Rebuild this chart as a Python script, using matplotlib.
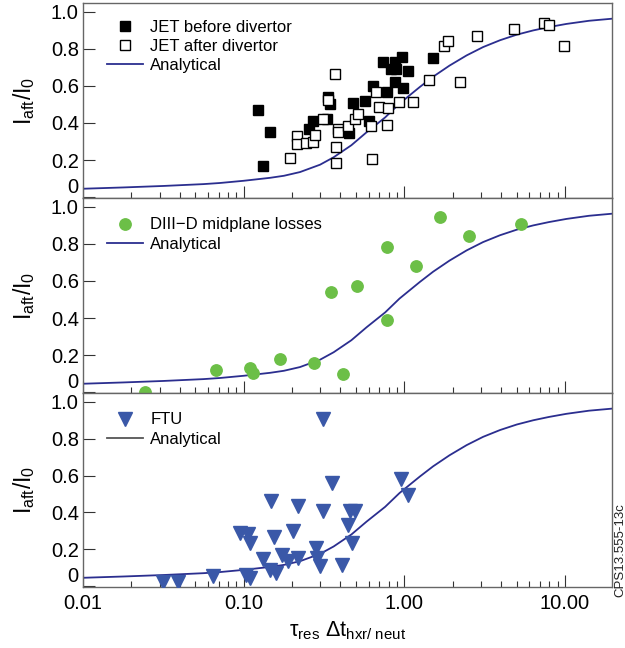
import matplotlib
matplotlib.use('Agg')
import matplotlib.pyplot as plt
from matplotlib.lines import Line2D
from matplotlib.ticker import LogLocator, FixedLocator, FixedFormatter, NullFormatter

plt.rcParams['font.family'] = ['Liberation Sans', 'DejaVu Sans']
plt.rcParams['mathtext.fontset'] = 'custom'
plt.rcParams['mathtext.rm'] = 'Liberation Sans'
plt.rcParams['mathtext.it'] = 'Liberation Sans:italic'
plt.rcParams['mathtext.sf'] = 'Liberation Sans'

# ---------------- data ----------------
# Analytical curve
curve_x = [0.01, 0.0178, 0.0316, 0.0562, 0.0711, 0.1, 0.146, 0.178, 0.224, 0.299, 0.363,
           0.468, 0.582, 0.759, 0.933, 1.25, 1.51, 1.91, 2.44, 3.09, 3.94, 5.01, 6.34,
           7.94, 10.2, 14.1, 19.5]
curve_y = [0.045, 0.052, 0.06, 0.07, 0.076, 0.088, 0.104, 0.115, 0.135, 0.175, 0.215,
           0.28, 0.35, 0.43, 0.505, 0.595, 0.65, 0.71, 0.765, 0.81, 0.847, 0.877, 0.90,
           0.918, 0.935, 0.952, 0.963]

# JET before divertor (filled squares)
jet_before_x = [0.123, 0.146, 0.131, 0.255, 0.27, 0.33, 0.335, 0.346, 0.45, 0.48, 0.57,
                0.60, 0.64, 0.74, 0.78, 0.87, 0.96, 1.06, 0.89, 0.87, 0.98, 1.5, 0.83]
jet_before_y = [0.47, 0.35, 0.17, 0.37, 0.41, 0.42, 0.54, 0.50, 0.345, 0.51, 0.52,
                0.41, 0.60, 0.73, 0.57, 0.73, 0.755, 0.68, 0.69, 0.62, 0.59, 0.75, 0.69]

# JET after divertor (open squares)
jet_after_x = [0.194, 0.214, 0.214, 0.245, 0.27, 0.278, 0.31, 0.336, 0.37, 0.375, 0.378,
               0.388, 0.388, 0.448, 0.49, 0.516, 0.62, 0.63, 0.665, 0.70, 0.78, 0.79,
               0.93, 1.13, 1.42, 1.77, 1.88, 2.22, 2.84, 4.81, 7.43, 7.94, 9.88]
jet_after_y = [0.21, 0.33, 0.285, 0.294, 0.30, 0.335, 0.42, 0.524, 0.665, 0.272, 0.185,
               0.37, 0.35, 0.384, 0.42, 0.45, 0.384, 0.207, 0.569, 0.488, 0.389, 0.479,
               0.515, 0.515, 0.632, 0.816, 0.845, 0.62, 0.872, 0.908, 0.942, 0.93, 0.816]

# DIII-D midplane losses
diiid_x = [0.0243, 0.067, 0.109, 0.115, 0.168, 0.274, 0.413, 0.349, 0.509, 0.783, 0.783,
           1.19, 1.67, 2.53, 5.29]
diiid_y = [0.002, 0.119, 0.131, 0.101, 0.177, 0.158, 0.096, 0.539, 0.573, 0.782, 0.389,
           0.683, 0.944, 0.845, 0.906]

# FTU
ftu_x = [0.0316, 0.0388, 0.0647, 0.104, 0.109, 0.095, 0.107, 0.110, 0.147, 0.155, 0.131,
         0.146, 0.160, 0.172, 0.188, 0.204, 0.219, 0.219, 0.31, 0.357, 0.31, 0.46, 0.49,
         0.444, 0.47, 0.283, 0.285, 0.30, 0.407, 0.95, 1.06]
ftu_y = [0.023, 0.02, 0.056, 0.06, 0.045, 0.29, 0.285, 0.236, 0.461, 0.265, 0.146,
         0.085, 0.072, 0.166, 0.137, 0.30, 0.432, 0.155, 0.906, 0.557, 0.405, 0.407, 0.407,
         0.33, 0.236, 0.205, 0.15, 0.11, 0.113, 0.582, 0.492]

ytick_vals = [0, 0.2, 0.4, 0.6, 0.8, 1.0]
ytick_labels = ['0', '0.2', '0.4', '0.6', '0.8', '1.0']
xtick_vals = [0.01, 0.1, 1, 10]
xtick_labels = ['0.01', '0.10', '1.00', '10.00']

# ---------------- styles ----------------
CURVE = '#2B2E8F'
GREEN = '#6CBF47'
BLUE = '#3A58A8'
SPINE = '#666666'
TICKC = '#333333'

W, H = 625, 648
fig = plt.figure(figsize=(W / 100, H / 100), dpi=100)


def add_ax(top, bottom):
    return fig.add_axes([83 / W, 1 - bottom / H, 529 / W, (bottom - top) / H])


ax1 = add_ax(3, 198)
ax2 = add_ax(198, 393)
ax3 = add_ax(393, 587)

for ax in (ax1, ax2, ax3):
    ax.set_xscale('log')
    ax.set_xlim(0.01, 19.6)
    ax.set_ylim(-0.005, 1.048)
    ax.plot(curve_x, curve_y, color=CURVE, lw=1.3, zorder=2)
    for s in ax.spines.values():
        s.set_color(SPINE)
        s.set_linewidth(1.0)
    ax.xaxis.set_major_locator(FixedLocator(xtick_vals))
    ax.xaxis.set_minor_locator(LogLocator(base=10, subs=range(2, 10)))
    ax.xaxis.set_minor_formatter(NullFormatter())
    ax.yaxis.set_major_locator(FixedLocator(ytick_vals))
    ax.yaxis.set_major_formatter(FixedFormatter(ytick_labels))
    ax.tick_params(axis='both', which='major', direction='in', length=8.5, width=0.8,
                   color=TICKC, labelsize=14.5, pad=3)
    ax.tick_params(axis='x', which='minor', direction='in', length=4.3, width=0.8, color=TICKC)
    ax.tick_params(axis='x', top=False, which='both')
    ax.tick_params(axis='y', right=False, which='both')
    ax.set_ylabel('I$_{\\mathrm{aft}}$/I$_{\\mathrm{0}}$', fontsize=16.5, labelpad=10)
    ax.yaxis.get_major_ticks()[0].label1.set_verticalalignment('bottom')

ax1.tick_params(axis='x', labelbottom=False)
ax2.tick_params(axis='x', labelbottom=False)
ax3.xaxis.set_major_formatter(FixedFormatter(xtick_labels))
ax3.tick_params(axis='x', pad=5)

# panel 1
ax1.plot(jet_before_x, jet_before_y, 's', color='black', ms=7.4, mec='black', zorder=3)
ax1.plot(jet_after_x, jet_after_y, 's', mfc='white', mec='black', mew=1.0, ms=7.0, zorder=4)
# panel 2
ax2.plot(diiid_x, diiid_y, 'o', color=GREEN, ms=8.2, mec=GREEN, zorder=3, clip_on=False)
# panel 3
ax3.plot(ftu_x, ftu_y, 'v', color=BLUE, ms=9.5, mec=BLUE, zorder=3)

leg_kw = dict(loc='upper left', frameon=False, fontsize=12, borderpad=0, borderaxespad=0,
              handlelength=2.15, handletextpad=0.45, labelspacing=0.25)

h1 = [Line2D([], [], ls='none', marker='s', color='black', ms=7.4),
      Line2D([], [], ls='none', marker='s', mfc='white', mec='black', mew=1.0, ms=7.0),
      Line2D([], [], color=CURVE, lw=1.3)]
ax1.legend(h1, ['JET before divertor', 'JET after divertor', 'Analytical'],
           bbox_to_anchor=(0.045, 0.915), **leg_kw)

h2 = [Line2D([], [], ls='none', marker='o', color=GREEN, ms=8.2),
      Line2D([], [], color=CURVE, lw=1.3)]
ax2.legend(h2, ['DIII\u2212D midplane losses', 'Analytical'],
           bbox_to_anchor=(0.045, 0.9), **leg_kw)

h3 = [Line2D([], [], ls='none', marker='v', color=BLUE, ms=9.5),
      Line2D([], [], color='#555555', lw=1.3)]
ax3.legend(h3, ['FTU', 'Analytical'], bbox_to_anchor=(0.045, 0.9), **leg_kw)

ax3.set_xlabel('\u03c4$_{\\mathrm{res}}$ \u0394t$_{\\mathrm{hxr/\\ neut}}$', fontsize=15.5, labelpad=5)

fig.text(620 / W, 1 - 550 / H, 'CPS13.555-13c', rotation=90, fontsize=9.5,
         ha='center', va='center', color='#222222')

fig.savefig('out.png', dpi=100)
